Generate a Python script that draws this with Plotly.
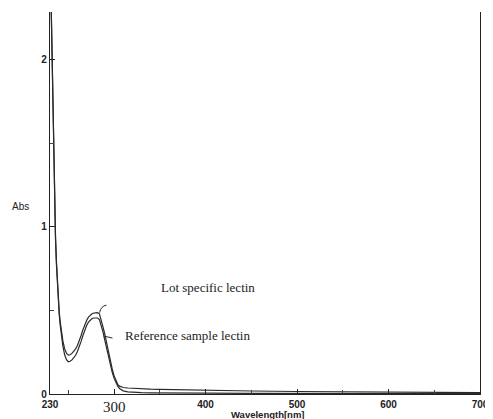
import plotly.graph_objects as go

wavelength = [230, 231, 232, 233, 234, 235, 236, 237, 238, 239, 240, 241, 242, 244, 246, 248,
              250, 252, 254, 256, 258, 260, 262, 264, 266, 268, 270, 272, 274, 276, 278, 280,
              282, 284, 286, 288, 290, 292, 294, 296, 298, 300, 302, 304, 306, 308, 310, 315,
              320, 330, 340, 350, 375, 400, 450, 500, 550, 600, 650, 700]

lot_specific = [2.70, 2.40, 2.05, 1.72, 1.42, 1.15, 0.95, 0.80, 0.67, 0.57, 0.50, 0.44, 0.39, 0.32, 0.27, 0.245,
                0.233, 0.235, 0.243, 0.255, 0.27, 0.29, 0.315, 0.35, 0.385, 0.415, 0.44, 0.46, 0.472, 0.48, 0.485, 0.487,
                0.487, 0.48, 0.445, 0.40, 0.355, 0.30, 0.25, 0.20, 0.15, 0.11, 0.08, 0.058, 0.047, 0.042, 0.039, 0.036,
                0.034, 0.031, 0.029, 0.028, 0.025, 0.022, 0.018, 0.015, 0.013, 0.011, 0.010, 0.008]

reference_sample = [2.70, 2.40, 2.04, 1.70, 1.40, 1.13, 0.93, 0.78, 0.65, 0.55, 0.48, 0.42, 0.37, 0.29, 0.235, 0.205,
                    0.193, 0.196, 0.204, 0.215, 0.232, 0.255, 0.28, 0.315, 0.35, 0.385, 0.41, 0.43, 0.443, 0.452, 0.455, 0.456,
                    0.455, 0.445, 0.41, 0.37, 0.32, 0.27, 0.22, 0.175, 0.13, 0.095, 0.068, 0.047, 0.033, 0.025, 0.019, 0.013,
                    0.010, 0.008, 0.007, 0.006, 0.005, 0.005, 0.004, 0.004, 0.003, 0.003, 0.002, 0.002]

x_tickvals = [230, 300, 400, 500, 600, 700]
x_ticktext = ["230", "", "400", "500", "600", "700"]
x_minor = [250, 350, 450, 550, 650]
y_tickvals = [0, 1, 2]
y_ticktext = ["0", "1", "2"]
y_minor = [0.5, 1.5]

line_color = "#2a2a2a"
fig = go.Figure()
fig.add_trace(go.Scatter(x=wavelength, y=lot_specific, mode="lines",
                         line=dict(color=line_color, width=1.2), name="Lot specific lectin"))
fig.add_trace(go.Scatter(x=wavelength, y=reference_sample, mode="lines",
                         line=dict(color=line_color, width=1.2), name="Reference sample lectin"))

tick_font = dict(family="Liberation Sans, Arial", size=10, color="#222", weight="bold")
serif = dict(family="Liberation Serif, Times New Roman", size=13, color="#222")

# page body has an 8px margin: figure is 8px smaller, plot area at screen x 50..484, y 12..394
plot_w, plot_h = 434, 382

fig.update_layout(
    width=485, height=411,
    margin=dict(l=42, r=9, t=4, b=25),
    paper_bgcolor="white", plot_bgcolor="white",
    showlegend=False,
    xaxis=dict(range=[230, 700], showgrid=False, zeroline=False,
               showline=True, linecolor="#222", linewidth=1.2,
               tickmode="array", tickvals=x_tickvals, ticktext=x_ticktext,
               ticks="inside", ticklen=5, tickcolor="#222", tickfont=tick_font,
               ticklabelstandoff=1,
               minor=dict(tickmode="array", tickvals=x_minor, ticks="inside", ticklen=4, tickcolor="#444")),
    yaxis=dict(range=[0, 2.287], showgrid=False, zeroline=False,
               showline=True, linecolor="#222", linewidth=1.2, mirror=True,
               tickmode="array", tickvals=y_tickvals, ticktext=y_ticktext,
               ticks="inside", ticklen=5, tickcolor="#222", tickfont=tick_font,
               minor=dict(tickmode="array", tickvals=y_minor, ticks="inside", ticklen=4, tickcolor="#444")),
    annotations=[
        dict(text="300", x=300, xref="x", y=(394 - 407) / plot_h, yref="paper", yanchor="middle",
             xanchor="center", showarrow=False,
             font=dict(family="Liberation Serif, Times New Roman", size=15, color="#222")),
        dict(text="Abs", x=(10 - 50) / plot_w, xref="paper", xanchor="left",
             y=(394 - 206) / plot_h, yref="paper", yanchor="middle",
             showarrow=False, font=dict(family="Liberation Sans, Arial", size=10, color="#222")),
        dict(text="Wavelength[nm]", x=(270 - 50) / plot_w, xref="paper", y=(394 - 414.5) / plot_h,
             yref="paper", yanchor="middle", showarrow=False,
             font=dict(family="Liberation Sans, Arial", size=9.5, color="#222", weight="bold")),
        dict(text="Lot specific lectin", x=349.2, xref="x", y=0.64, yref="y",
             xanchor="left", yanchor="middle", showarrow=False, font=serif),
        dict(text="Reference sample lectin", x=310.2, xref="x", y=0.353, yref="y",
             xanchor="left", yanchor="middle", showarrow=False, font=serif),
    ],
    shapes=[
        dict(type="path", xref="x", yref="y", path="M 284.2,0.487 Q 285.5,0.526 291.7,0.532",
             line=dict(color=line_color, width=1)),
        dict(type="line", xref="x", yref="y", x0=288.5, y0=0.347, x1=298.3, y1=0.335,
             line=dict(color=line_color, width=1)),
    ],
)

fig.write_html("out.html")
